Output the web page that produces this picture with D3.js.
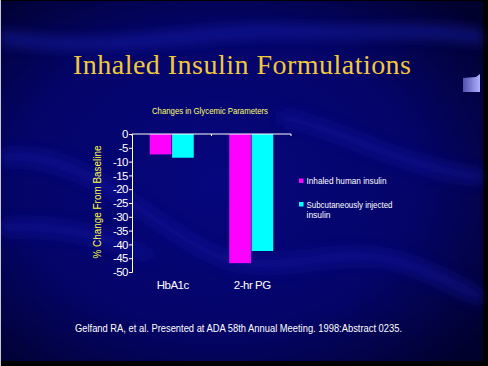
<!DOCTYPE html>
<html><head><meta charset="utf-8">
<script src="https://cdn.jsdelivr.net/npm/d3@7"></script>
<style>html,body{margin:0;padding:0;background:#000;}svg{display:block;}</style>
</head><body>
<svg id="c" width="488" height="366"></svg>
<script>
const categories = ["HbA1c", "2-hr PG"];
const seriesNames = ["Inhaled human insulin", "Subcutaneously injected insulin"];
const inhaled = [-7.4, -46.8];
const subcutaneous = [-8.6, -42.4];
const yTicks = [0, -5, -10, -15, -20, -25, -30, -35, -40, -45, -50];
const colors = ["#ff00ff", "#00ffff"];

const svg = d3.select("#c");
const defs = svg.append("defs");
const rg = defs.append("radialGradient").attr("id","bg").attr("cx","45%").attr("cy","50%").attr("r","70%");
rg.append("stop").attr("offset","0%").attr("stop-color","#06067e");
rg.append("stop").attr("offset","60%").attr("stop-color","#040468");
rg.append("stop").attr("offset","100%").attr("stop-color","#01012e");
const bl = defs.append("filter").attr("id","blur").attr("x","-20%").attr("y","-50%").attr("width","140%").attr("height","200%");
bl.append("feGaussianBlur").attr("stdDeviation", 6);
const lg = defs.append("linearGradient").attr("id","cube").attr("x1","0").attr("x2","1");
lg.append("stop").attr("offset","0").attr("stop-color","#5050b0");
lg.append("stop").attr("offset","1").attr("stop-color","#b0b0ff");

// background
svg.append("rect").attr("x",0).attr("y",0).attr("width",488).attr("height",366).attr("fill","#000");
svg.append("rect").attr("x",1).attr("y",1).attr("width",482).attr("height",360).attr("fill","url(#bg)");
const waves = svg.append("g").attr("filter","url(#blur)").attr("opacity",0.45);
waves.append("path").attr("d","M0,30 C120,50 200,20 300,25 C380,28 430,20 483,30 L483,45 C420,35 380,40 300,38 C200,35 120,60 0,45 Z").attr("fill","#1a22b8");
waves.append("path").attr("d","M0,150 C80,140 130,200 200,240 C260,275 320,240 380,250 C430,258 460,280 483,290 L483,305 C450,295 420,272 380,265 C320,258 260,290 200,255 C130,215 80,160 0,165 Z").attr("fill","#1418a8");
waves.append("path").attr("d","M0,220 C60,215 110,230 150,250 L150,262 C110,245 60,232 0,236 Z").attr("fill","#1418a8");
waves.append("path").attr("d","M280,110 C340,120 400,160 483,170 L483,185 C400,175 340,135 280,124 Z").attr("fill","#1418a8");
svg.append("rect").attr("x",0).attr("y",0).attr("width",1).attr("height",366).attr("fill","#c8c8c8");

// cube
svg.append("path").attr("d","M463,78 L476,77 L480,74 L480,92 L463,92 Z").attr("fill","url(#cube)");

// title
svg.append("text").attr("x",73).attr("y",73.5)
  .attr("font-family","'Liberation Serif','Times New Roman',serif").attr("font-size",28)
  .attr("textLength",338).attr("lengthAdjust","spacing")
  .attr("fill","#f2c83a").text("Inhaled Insulin Formulations");

// chart
const y = d3.scaleLinear().domain([-50, 0]).range([272, 134]);
const x0 = d3.scaleBand().domain(categories).range([132, 291]);
const bw = x0.bandwidth();
const x1 = d3.scaleBand().domain(seriesNames).range([bw/2 - 22, bw/2 + 22]).paddingInner(0.03);

svg.append("text").attr("x",210).attr("y",114).attr("text-anchor","middle")
  .attr("font-family","Arial, 'Liberation Sans', sans-serif").attr("font-size",9)
  .attr("textLength",116).attr("lengthAdjust","spacingAndGlyphs")
  .attr("fill","#ffff66").text("Changes in Glycemic Parameters");

const groups = svg.append("g").selectAll("g").data(categories).join("g")
  .attr("transform", d => `translate(${x0(d)},0)`);
const vals = [inhaled, subcutaneous];
groups.selectAll("rect").data((d,i) => seriesNames.map((s,j) => ({s, v: vals[j][i], c: colors[j]})))
  .join("rect")
  .attr("x", d => x1(d.s)).attr("width", x1.bandwidth())
  .attr("y", y(0)).attr("height", d => y(d.v) - y(0))
  .attr("fill", d => d.c);

const yAxis = d3.axisLeft(y).tickValues(yTicks).tickSize(3).tickFormat(d3.format("d"));
const ga = svg.append("g").attr("transform","translate(132,0)").call(yAxis);
ga.select(".domain").attr("stroke","#fff").attr("stroke-width",1);
ga.selectAll(".tick line").attr("stroke","#fff");
ga.selectAll(".tick text").attr("fill","#fff").attr("font-family","Arial, 'Liberation Sans', sans-serif")
  .attr("font-size",11.5).attr("x",-4).attr("letter-spacing",-0.5).text(d => d === 0 ? "0" : "-" + Math.abs(d));

const xAxis = d3.axisBottom(x0).tickSize(0);
const gx = svg.append("g").attr("transform",`translate(0,${y(0)})`).call(xAxis);
gx.select(".domain").attr("stroke","#fff").attr("d","M132,0H291");
gx.selectAll(".tick text").remove();
[132, 132 + bw, 291].forEach(px => svg.append("line").attr("x1",px).attr("x2",px).attr("y1",y(0)).attr("y2",y(0)+2).attr("stroke","#fff"));

svg.append("g").selectAll("text").data(categories).join("text")
  .attr("x", d => x0(d) + bw/2 + 1).attr("y", 289).attr("text-anchor","middle")
  .attr("font-family","Arial, 'Liberation Sans', sans-serif").attr("font-size",11.5).attr("letter-spacing",-0.5)
  .attr("fill","#fff").text(d => d);

svg.append("text").attr("transform","translate(101,202) rotate(-90)").attr("text-anchor","middle")
  .attr("font-family","Arial, 'Liberation Sans', sans-serif").attr("font-size",11)
  .attr("textLength",113).attr("lengthAdjust","spacingAndGlyphs")
  .attr("fill","#ffff44").text("% Change From Baseline");

// legend
const leg = svg.append("g");
leg.append("rect").attr("x",299).attr("y",178.5).attr("width",4.5).attr("height",4.5).attr("fill",colors[0]);
leg.append("text").attr("x",306.5).attr("y",183.5).attr("font-family","Arial, 'Liberation Sans', sans-serif")
  .attr("font-size",9).attr("textLength",80).attr("lengthAdjust","spacingAndGlyphs").attr("fill","#fff").text("Inhaled human insulin");
leg.append("rect").attr("x",299).attr("y",202).attr("width",4.5).attr("height",4.5).attr("fill",colors[1]);
leg.append("text").attr("x",306.5).attr("y",208).attr("font-family","Arial, 'Liberation Sans', sans-serif")
  .attr("font-size",9).attr("textLength",86).attr("lengthAdjust","spacingAndGlyphs").attr("fill","#fff").text("Subcutaneously injected");
leg.append("text").attr("x",306.5).attr("y",218).attr("font-family","Arial, 'Liberation Sans', sans-serif")
  .attr("font-size",9).attr("textLength",24).attr("lengthAdjust","spacingAndGlyphs").attr("fill","#fff").text("insulin");

svg.append("text").attr("x",75).attr("y",331.5).attr("font-family","Arial, 'Liberation Sans', sans-serif")
  .attr("font-size",10).attr("textLength",327).attr("lengthAdjust","spacingAndGlyphs")
  .attr("fill","#fff").text("Gelfand RA, et al. Presented at ADA 58th Annual Meeting. 1998:Abstract 0235.");
</script>
</body></html>
